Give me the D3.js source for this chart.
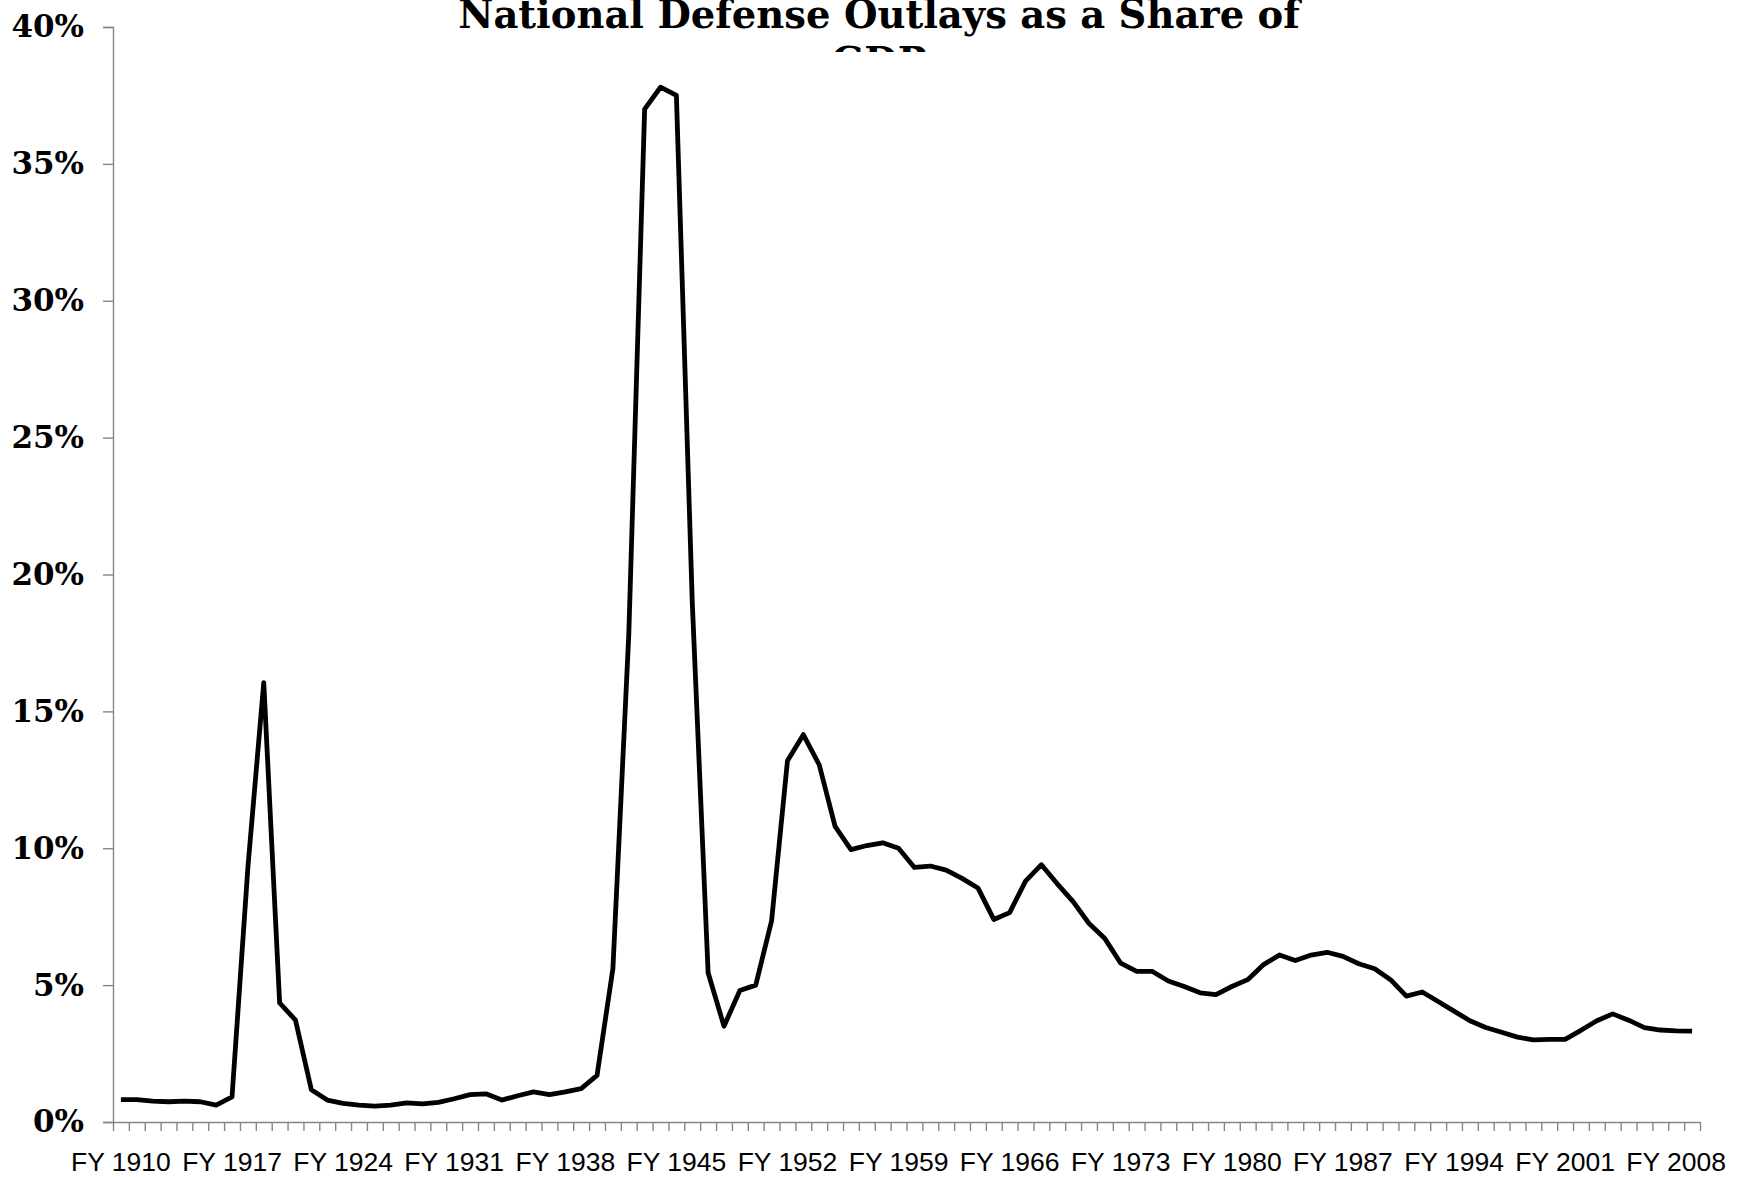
<!DOCTYPE html>
<html>
<head>
<meta charset="utf-8">
<script src="https://d3js.org/d3.v7.min.js"></script>
<style>
  body { margin: 0; background: #fff; }
</style>
</head>
<body>
<div id="my_chart"></div>
<script>
// fiscal years shown on the chart (one category per year)
var years = d3.range(1910, 2010);

// labels printed under the axis, every 7th year
var xLabels = [1910, 1917, 1924, 1931, 1938, 1945, 1952, 1959, 1966, 1973, 1980, 1987, 1994, 2001, 2008];

// y ticks in percent
var yTicks = [0, 5, 10, 15, 20, 25, 30, 35, 40];

// national defense outlays, % of GDP
var outlays = [
  0.82, 0.82, 0.76, 0.74, 0.76, 0.74, 0.62, 0.92, 9.3, 16.05,   // 1910-1919
  4.35, 3.72, 1.18, 0.8, 0.68, 0.62, 0.58, 0.62, 0.7, 0.66,    // 1920-1929
  0.72, 0.85, 1.0, 1.03, 0.8, 0.96, 1.1, 1.0, 1.1, 1.22,       // 1930-1939
  1.7, 5.6, 17.8, 37.0, 37.8, 37.5, 19.0, 5.45, 3.5, 4.8,      // 1940-1949
  5.0, 7.35, 13.2, 14.15, 13.05, 10.8, 9.95, 10.1, 10.2, 10.0, // 1950-1959
  9.3, 9.35, 9.2, 8.9, 8.55, 7.4, 7.65, 8.8, 9.4, 8.7,         // 1960-1969
  8.05, 7.25, 6.7, 5.8, 5.5, 5.5, 5.15, 4.95, 4.72, 4.65,      // 1970-1979
  4.95, 5.2, 5.75, 6.1, 5.9, 6.1, 6.2, 6.05, 5.78, 5.6,        // 1980-1989
  5.2, 4.6, 4.75, 4.4, 4.05, 3.7, 3.45, 3.28, 3.1, 3.0,        // 1990-1999
  3.02, 3.02, 3.35, 3.7, 3.95, 3.72, 3.45, 3.36, 3.33, 3.32    // 2000-2009
];

// set the dimensions and margins of the graph
var margin = {top: 27, right: 45, bottom: 55, left: 113},
    width = 1745 - margin.left - margin.right,
    height = 1177 - margin.top - margin.bottom;

var root = d3.select("#my_chart")
    .append("svg")
    .attr("width", 1745)
    .attr("height", 1177);

// title: second line gets cut off by the title box
root.append("clipPath")
    .attr("id", "titleClip")
    .append("rect")
    .attr("x", 0).attr("y", 0)
    .attr("width", 1745).attr("height", 52);

var title = root.append("text")
    .attr("clip-path", "url(#titleClip)")
    .attr("text-anchor", "middle")
    .style("font-family", "'DejaVu Serif', serif")
    .style("font-weight", "bold")
    .style("font-size", "38.5px");
title.append("tspan")
    .attr("x", 879).attr("y", 28)
    .text("National Defense Outlays as a Share of");
title.append("tspan")
    .attr("x", 879).attr("y", 75)
    .text("GDP");

var svg = root.append("g")
    .attr("transform", "translate(" + margin.left + "," + margin.top + ")");

// X scale: one band per year
var x = d3.scaleBand()
    .domain(years)
    .range([0, width]);

// linear index scale for the tick marks between categories
var xi = d3.scaleLinear()
    .domain([0, years.length])
    .range([0, width]);

var y = d3.scaleLinear()
    .domain([0, 40])
    .range([height, 0]);

var axisColor = "#868686";

// Y axis
var yAxis = svg.append("g")
    .call(d3.axisLeft(y).tickValues(yTicks).tickSize(10).tickPadding(19)
        .tickFormat(function(d) { return d + "%"; }));
yAxis.select(".domain").attr("stroke", axisColor).attr("stroke-width", 1.4);
yAxis.selectAll(".tick line").attr("stroke", axisColor).attr("stroke-width", 1.4);
yAxis.selectAll("text")
    .attr("fill", "#000")
    .style("font-family", "'DejaVu Serif', serif")
    .style("font-weight", "bold")
    .style("font-size", "31px");

// X axis tick marks
var xTickAxis = svg.append("g")
    .attr("transform", "translate(0," + height + ")")
    .call(d3.axisBottom(xi).tickValues(d3.range(years.length + 1)).tickSize(9)
        .tickSizeOuter(0).tickFormat(""));
xTickAxis.select(".domain").attr("stroke", axisColor).attr("stroke-width", 1.4);
xTickAxis.selectAll(".tick line").attr("stroke", axisColor).attr("stroke-width", 1.4);

// X axis labels
var xLabelAxis = svg.append("g")
    .attr("transform", "translate(0," + height + ")")
    .call(d3.axisBottom(x).tickValues(xLabels).tickSize(0).tickPadding(30)
        .tickFormat(function(d) { return "FY " + d; }));
xLabelAxis.select(".domain").remove();
xLabelAxis.selectAll("text")
    .attr("fill", "#000")
    .style("font-family", "'Liberation Sans', Arial, sans-serif")
    .style("font-size", "26.5px");

// the line
var line = d3.line()
    .x(function(d, i) { return x(years[i]) + x.bandwidth() / 2; })
    .y(function(d) { return y(d); });

svg.append("path")
    .datum(outlays)
    .attr("fill", "none")
    .attr("stroke", "#000")
    .attr("stroke-width", 4.8)
    .attr("stroke-linejoin", "round")
    .attr("d", line);
</script>
</body>
</html>
